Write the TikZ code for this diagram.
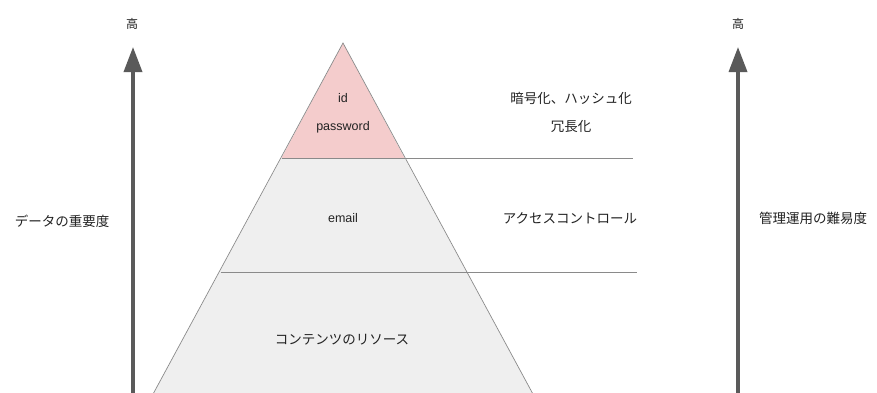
\documentclass[tikz,border=0pt]{standalone}
\usepackage{fontspec}
\setmainfont{Noto Sans CJK JP}
\newfontfamily\latinfont{Liberation Sans}
\usetikzlibrary{arrows.meta}
\definecolor{pinkfill}{HTML}{F4CCCC}
\definecolor{grayfill}{HTML}{EFEFEF}
\definecolor{edgecol}{HTML}{8A8A8A}
\definecolor{arrowcol}{HTML}{5A5A5A}
\definecolor{textcol}{HTML}{222222}
\tikzset{
  lbl/.style={font=\fontsize{13.5}{15}\selectfont, text=textcol, inner sep=0pt, anchor=center},
  small/.style={font=\latinfont\fontsize{12.5}{14}\selectfont, text=textcol, inner sep=0pt, anchor=center},
  high/.style={font=\fontsize{12}{14}\selectfont, text=textcol, inner sep=0pt, anchor=center},
  axis/.style={draw=arrowcol, line width=3.5pt, -{Triangle[length=25pt,width=18pt]}},
  edge/.style={draw=edgecol, line width=0.7pt},
  sep/.style={draw=edgecol, line width=0.8pt},
}
\begin{document}
\begin{tikzpicture}[x=1pt,y=-1pt]
\useasboundingbox (0,0) rectangle (877,392);
\clip (0,0) rectangle (877,392);
% pyramid coordinates
\coordinate (apex) at (343,43);
\coordinate (p1l) at (281.5,158);
\coordinate (p1r) at (404.5,158);
\coordinate (p2l) at (220.5,272);
\coordinate (p2r) at (465.5,272);
\coordinate (p3l) at (139,420);
\coordinate (p3r) at (547,420);
\fill[grayfill] (p1l) -- (p1r) -- (p3r) -- (p3l) -- cycle;
\fill[pinkfill] (apex) -- (p1r) -- (p1l) -- cycle;
\draw[edge] (p3l) -- (apex) -- (p3r);
\draw[edge] (p1l) -- (p1r);
\draw[edge] (p2l) -- (p2r);
% separator lines
\coordinate (s1) at (633,158);
\coordinate (s2) at (637,272);
\draw[sep] (p1r) -- (s1);
\draw[sep] (p2r) -- (s2);
% pyramid texts
\node[small] (id) at (343,98) {id};
\node[small] (pw) at (343,127) {password};
\node[small] (em) at (343,218) {email};
\node[lbl] (res) at (342,340) {コンテンツのリソース};
% right texts
\node[lbl] (enc) at (571,98) {暗号化、ハッシュ化};
\node[lbl] (red) at (571,126) {冗長化};
\node[lbl] (acc) at (570,218) {アクセスコントロール};
% axes
\coordinate (lb) at (133,400);
\coordinate (lt) at (133,47);
\coordinate (rb) at (738,400);
\coordinate (rt) at (738,47);
\draw[axis] (lb) -- (lt);
\draw[axis] (rb) -- (rt);
\node[high] (lh) at (132,24) {高};
\node[high] (rh) at (738,24) {高};
\node[lbl] (limp) at (62,221) {データの重要度};
\node[lbl] (rdif) at (813,218) {管理運用の難易度};
\end{tikzpicture}
\end{document}
